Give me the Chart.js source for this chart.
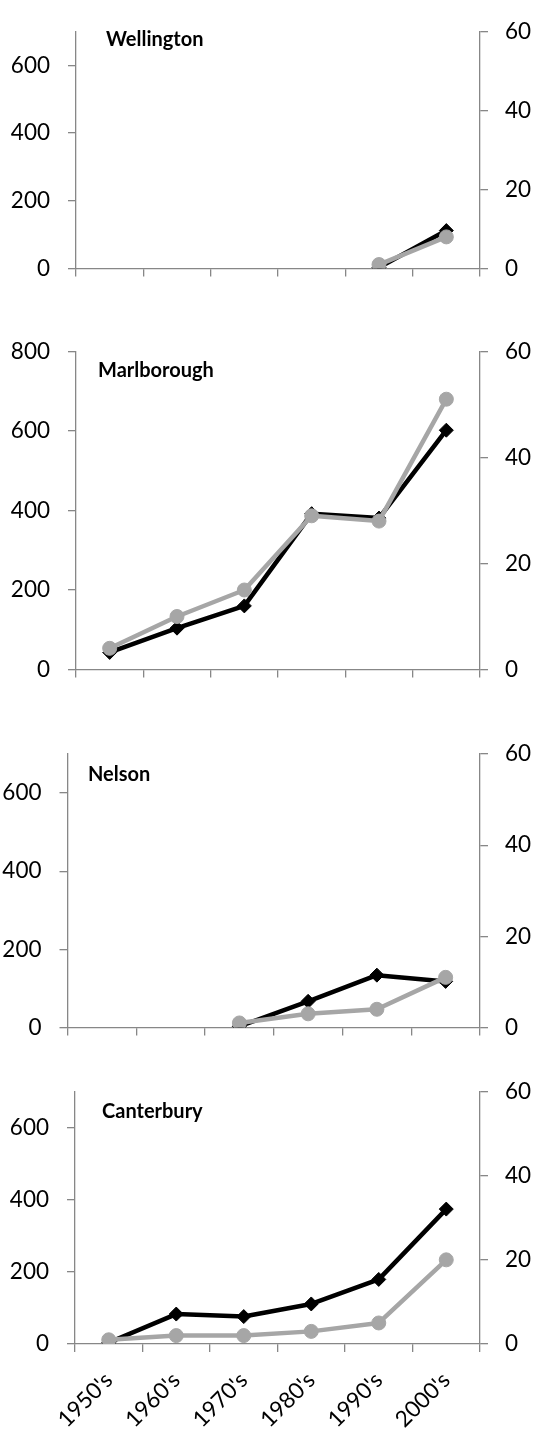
<!DOCTYPE html>
<html>
<head>
<meta charset="utf-8">
<script src="https://cdn.jsdelivr.net/npm/chart.js@4.4.0/dist/chart.umd.min.js"></script>
<style>
  html, body { margin: 0; padding: 0; background: #fff; }
  body { width: 536px; height: 1430px; position: relative; overflow: hidden; }
  .panel { position: absolute; left: 0; width: 536px; }
</style>
</head>
<body>
<div class="panel" id="p1" style="top:0px;height:300px;"><canvas id="c1"></canvas></div>
<div class="panel" id="p2" style="top:320px;height:381px;"><canvas id="c2"></canvas></div>
<div class="panel" id="p3" style="top:710px;height:349px;"><canvas id="c3"></canvas></div>
<div class="panel" id="p4" style="top:1060px;height:370px;"><canvas id="c4"></canvas></div>
<script>
// ---- data ----
const decades = ["1950's", "1960's", "1970's", "1980's", "1990's", "2000's"];

const wellingtonBlack = [null, null, null, null, 3, 112];
const wellingtonGray  = [null, null, null, null, 1, 8];

const marlboroughBlack = [43, 104, 160, 392, 381, 602];
const marlboroughGray  = [4, 10, 15, 29, 28, 51];

const nelsonBlack = [null, null, 3, 67, 134, 118];
const nelsonGray  = [null, null, 1, 3, 4, 11];

const canterburyBlack = [4, 83, 76, 111, 179, 374];
const canterburyGray  = [1, 2, 2, 3, 5, 20];

const leftTicks700 = [0, 200, 400, 600];
const leftTicks800 = [0, 200, 400, 600, 800];
const rightTicks   = [0, 20, 40, 60];

// ---- styling ----
const AXIS = '#878787';
const GRAY = '#a6a6a6';
const FONT = 'Lato, "Open Sans", sans-serif';

const titlePlugin = {
  id: 'panelTitle',
  afterDraw(chart, args, opts) {
    const ctx = chart.ctx;
    ctx.save();
    ctx.font = 'bold 20px ' + FONT;
    ctx.fillStyle = '#000';
    ctx.textAlign = 'left';
    ctx.textBaseline = 'alphabetic';
    ctx.fillText(opts.text, opts.x, opts.y);
    ctx.restore();
  }
};

function makePanel(canvasId, cfg) {
  const ctx = document.getElementById(canvasId);
  return new Chart(ctx, {
    type: 'line',
    data: {
      labels: decades,
      datasets: [
        {
          label: 'gray',
          data: cfg.gray,
          yAxisID: 'yR',
          borderColor: GRAY,
          backgroundColor: GRAY,
          borderWidth: 4.5,
          pointStyle: 'circle',
          pointRadius: 7,
          pointBorderWidth: 1,
          pointBackgroundColor: GRAY,
          pointBorderColor: GRAY,
          tension: 0,
          spanGaps: false,
          borderJoinStyle: 'round',
          borderCapStyle: 'round'
        },
        {
          label: 'black',
          data: cfg.black,
          yAxisID: 'yL',
          borderColor: '#000',
          backgroundColor: '#000',
          borderWidth: 4.5,
          pointStyle: 'rectRot',
          pointRadius: 7,
          pointBorderWidth: 1,
          pointBackgroundColor: '#000',
          pointBorderColor: '#000',
          tension: 0,
          spanGaps: false,
          borderJoinStyle: 'round',
          borderCapStyle: 'round'
        }
      ]
    },
    options: {
      responsive: true,
      maintainAspectRatio: false,
      animation: false,
      events: [],
      layout: { padding: { top: cfg.padTop, left: 0, right: 0, bottom: 0 } },
      plugins: {
        legend: { display: false },
        tooltip: { enabled: false },
        panelTitle: { text: cfg.title, x: cfg.titleX, y: cfg.titleY }
      },
      scales: {
        x: {
          type: 'category',
          offset: true,
          grid: {
            offset: true,
            drawOnChartArea: false,
            drawTicks: true,
            tickLength: 8,
            color: AXIS,
            lineWidth: 1.3
          },
          border: { display: true, color: AXIS, width: 1.3 },
          ticks: {
            display: cfg.showX,
            autoSkip: false,
            maxRotation: 45,
            minRotation: 45,
            padding: 15,
            color: '#000',
            font: { family: FONT, size: 22.5 }
          },
          afterFit(scale) { scale.height = cfg.xHeight; }
        },
        yL: {
          type: 'linear',
          position: 'left',
          min: 0,
          max: cfg.leftMax,
          grid: {
            drawOnChartArea: false,
            drawTicks: true,
            tickLength: 8,
            color: AXIS,
            lineWidth: 1.3
          },
          border: { display: true, color: AXIS, width: 1.3 },
          ticks: {
            padding: 18,
            color: '#000',
            font: { family: FONT, size: 22.5 }
          },
          afterBuildTicks(axis) { axis.ticks = cfg.leftTicks.map(v => ({ value: v })); },
          afterFit(scale) { scale.width = cfg.leftW; }
        },
        yR: {
          type: 'linear',
          position: 'right',
          min: 0,
          max: 60,
          grid: {
            drawOnChartArea: false,
            drawTicks: true,
            tickLength: 8,
            color: AXIS,
            lineWidth: 1.3
          },
          border: { display: true, color: AXIS, width: 1.3 },
          ticks: {
            padding: 17,
            color: '#000',
            font: { family: FONT, size: 22.5 }
          },
          afterBuildTicks(axis) { axis.ticks = rightTicks.map(v => ({ value: v })); },
          afterFit(scale) { scale.width = 56; }
        }
      }
    },
    plugins: [titlePlugin]
  });
}

makePanel('c1', {
  black: wellingtonBlack, gray: wellingtonGray, title: 'Wellington',
  titleX: 106, titleY: 46, padTop: 21, xHeight: 28, leftW: 76,
  leftMax: 700, leftTicks: leftTicks700, showX: false
});
makePanel('c2', {
  black: marlboroughBlack, gray: marlboroughGray, title: 'Marlborough',
  titleX: 98, titleY: 57, padTop: 22, xHeight: 28, leftW: 76,
  leftMax: 800, leftTicks: leftTicks800, showX: false
});
makePanel('c3', {
  black: nelsonBlack, gray: nelsonGray, title: 'Nelson',
  titleX: 88, titleY: 71, padTop: 44, xHeight: 28, leftW: 67.5,
  leftMax: 700, leftTicks: leftTicks700, showX: false
});
makePanel('c4', {
  black: canterburyBlack, gray: canterburyGray, title: 'Canterbury',
  titleX: 102, titleY: 58, padTop: 28, xHeight: 86, leftW: 75,
  leftMax: 700, leftTicks: leftTicks700, showX: true
});
</script>
</body>
</html>
